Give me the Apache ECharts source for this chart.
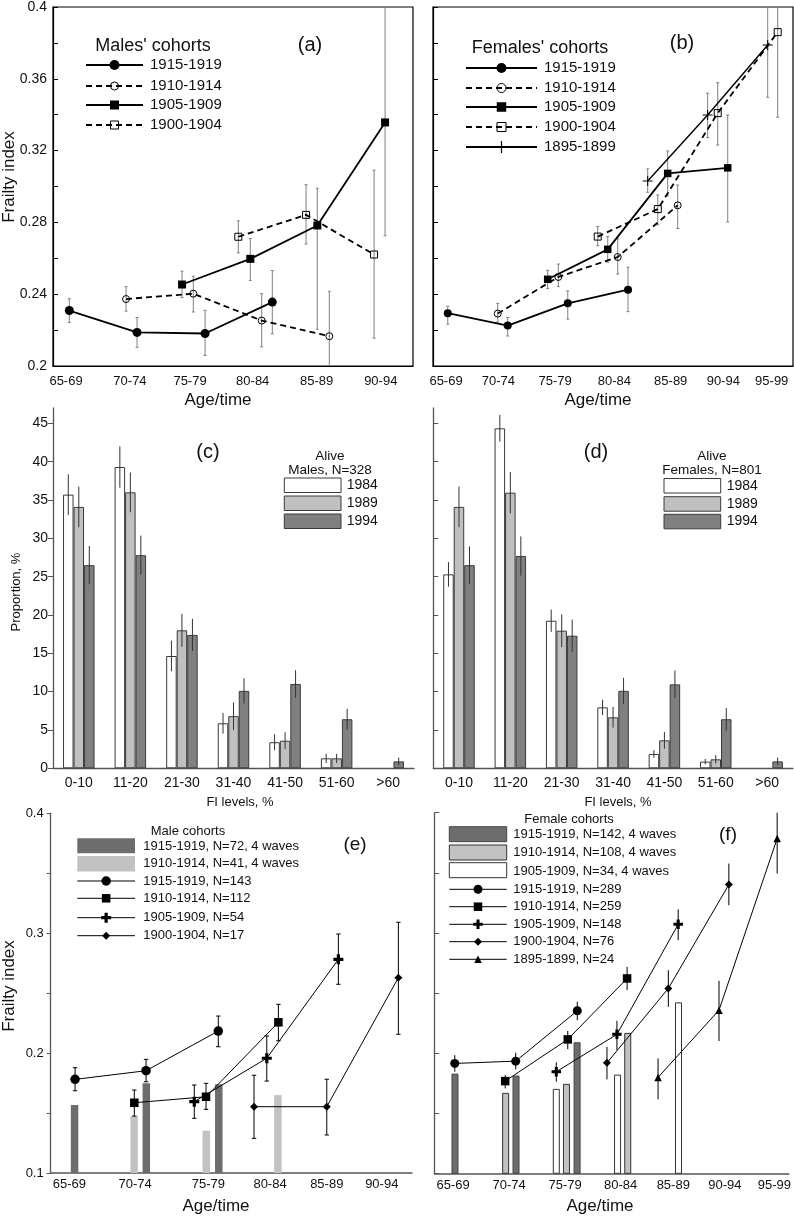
<!DOCTYPE html>
<html><head><meta charset="utf-8">
<script src="https://cdn.jsdelivr.net/npm/echarts@6/dist/echarts.min.js"></script>
<style>html,body{margin:0;padding:0;background:#fff}#c{width:794px;height:1216px}</style>
</head><body><div id="c"></div>
<script>
// ---------------- DATA ----------------
const ageLabels6 = ['65-69','70-74','75-79','80-84','85-89','90-94'];
const ageLabels7 = ['65-69','70-74','75-79','80-84','85-89','90-94','95-99'];
// tick label positions (mean age units)
const tickPosA = [67.08,72.14,76.89,81.85,86.91,91.98];
const tickPosB = [67,71.82,77.04,82.5,87.69,92.53,96.99];
const tickPosE = [67,72.26,78.12,83.06,87.6,92.0];
const tickPosF = [67,72.23,77.47,82.64,87.56,92.38,97];
const fiTicksAB = [0.2,0.22,0.24,0.26,0.28,0.3,0.32,0.34,0.36,0.38,0.4];
const fiLabelsA = [0.2,0.24,0.28,0.32,0.36,0.4];
const fiTicksEF = [0.1,0.15,0.2,0.25,0.3,0.35,0.4];
const fiLabelsE = [0.1,0.2,0.3,0.4];
const propTicks = [0,5,10,15,20,25,30,35,40,45];

const maleCohorts = ['1915-1919','1910-1914','1905-1909','1900-1904'];
const femaleCohorts = ['1915-1919','1910-1914','1905-1909','1900-1904','1895-1899'];

// panel (a): rows [mean age, FI, lower, upper]
const aM1915 = [[67.34,0.2309,0.2242,0.2375],[72.70,0.2187,0.2104,0.2270],[78.08,0.2181,0.2059,0.2310],[83.40,0.2356,0.2179,0.2532]];
const aM1910 = [[71.83,0.2373,0.2306,0.2442],[77.15,0.2403,0.2301,0.2500],[82.56,0.2253,0.2107,0.2403],[87.91,0.2166,0.19,0.2416]];
const aM1905 = [[76.26,0.2454,0.2381,0.2528],[81.66,0.2597,0.2477,0.2711],[86.96,0.2783,0.2205,0.2990],[92.32,0.3357,0.2726,0.41]];
const aM1900 = [[80.71,0.2720,0.2630,0.2809],[86.07,0.2842,0.2680,0.3010],[91.45,0.2621,0.2155,0.3091]];
// panel (b)
const bF1915 = [[67.16,0.2294,0.2233,0.2333],[72.68,0.2225,0.2167,0.2270],[78.21,0.2349,0.2261,0.2418],[83.76,0.2425,0.2303,0.2550]];
const bF1910 = [[71.76,0.2292,0.2245,0.2349],[77.34,0.2496,0.2442,0.2568],[82.81,0.2607,0.2512,0.2710],[88.33,0.2895,0.2766,0.3008]];
const bF1905 = [[76.36,0.2483,0.2431,0.2533],[81.89,0.2650,0.2578,0.2721],[87.41,0.3073,0.2948,0.3198],[92.94,0.3104,0.2802,0.3398]];
const bF1900 = [[80.97,0.2721,0.2670,0.2777],[86.50,0.2874,0.2786,0.2953],[92.02,0.3409,0.3231,0.3578],[97.54,0.3860,0.3386,0.43]];
const bF1895 = [[85.57,0.3031,0.2968,0.3098],[91.09,0.3398,0.3272,0.3520],[96.62,0.3788,0.3497,0.41]];

// panels (c), (d): proportion (%) by FI level, with half-width of error bar
const fiLevels = ['0-10','11-20','21-30','31-40','41-50','51-60','>60'];
const waves = ['1984','1989','1994'];
const males1984 = [35.7,39.3,14.65,5.87,3.4,1.3,null];
const males1984Err = [2.65,2.7,2.0,1.35,1.05,0.6,null];
const males1989 = [34.1,36.0,18.0,6.8,3.6,1.3,null];
const males1989Err = [2.65,2.6,2.15,1.8,1.1,0.6,null];
const males1994 = [26.5,27.8,17.4,10.1,11.0,6.4,0.9];
const males1994Err = [2.5,2.55,2.1,1.65,1.8,1.35,0.5];
const females1984 = [25.3,44.35,19.25,7.95,1.87,0.87,null];
const females1984Err = [1.6,1.75,1.45,1.0,0.5,0.35,null];
const females1989 = [34.1,35.95,17.95,6.65,3.65,1.17,null];
const females1989Err = [2.65,2.7,2.15,1.35,1.1,0.55,null];
const females1994 = [26.5,27.7,17.3,10.1,10.95,6.4,0.9];
const females1994Err = [2.45,2.55,2.1,1.7,1.8,1.45,0.5];

// panel (e): bars [mean age, FI]; points [mean age, FI, lower, upper]
const eBarNames = ['1915-1919, N=72, 4 waves','1910-1914, N=41, 4 waves'];
const eBar1915 = [[67.42,0.1567],[73.16,0.1748],[78.96,0.1740]];
const eBar1910 = [[72.19,0.1475],[77.96,0.1353],[83.69,0.1650]];
const eLineNames = ['1915-1919, N=143','1910-1914, N=112','1905-1909, N=54','1900-1904, N=17'];
const eM1915 = [[67.46,0.1781,0.1686,0.1878],[73.14,0.1853,0.1761,0.1948],[78.92,0.2184,0.2053,0.2309]];
const eM1910 = [[72.20,0.1586,0.1475,0.1692],[77.94,0.1636,0.1531,0.1748],[83.73,0.2257,0.2103,0.2407]];
const eM1905 = [[77.00,0.1595,0.1456,0.1734],[82.80,0.1957,0.1767,0.2143],[88.53,0.2782,0.2574,0.2993]];
const eM1900 = [[81.78,0.1553,0.1289,0.1815],[87.60,0.1553,0.1317,0.1782],[93.33,0.2629,0.2157,0.3091]];

// panel (f)
const fBarNames = ['1915-1919, N=142, 4 waves','1910-1914, N=108, 4 waves','1905-1909, N=34, 4 waves'];
const fBar1915 = [[67.18,0.1825],[72.88,0.1809],[78.58,0.2086]];
const fBar1910 = [[71.91,0.1665],[77.59,0.1740],[83.31,0.2164]];
const fBar1905 = [[76.64,0.1698],[82.36,0.1817],[88.05,0.2418]];
const fLineNames = ['1915-1919, N=289','1910-1914, N=259','1905-1909, N=148','1900-1904, N=76','1895-1899, N=24'];
const fF1915 = [[67.16,0.1914,0.1845,0.1983],[72.85,0.1933,0.1864,0.2003],[78.60,0.2352,0.2274,0.2427]];
const fF1910 = [[71.87,0.1767,0.1707,0.1817],[77.71,0.2114,0.2033,0.2185],[83.25,0.2621,0.2524,0.2717]];
const fF1905 = [[76.64,0.1845,0.1762,0.1923],[82.30,0.2156,0.2025,0.2269],[88.02,0.3072,0.2939,0.3197]];
const fF1900 = [[81.37,0.1919,0.1781,0.2052],[87.10,0.2538,0.2385,0.2690],[92.75,0.3402,0.3230,0.3577]];
const fF1895 = [[86.14,0.1798,0.1615,0.1956],[91.83,0.2357,0.2100,0.2601],[97.26,0.3785,0.3494,0.407]];

// ---------------- RENDER ----------------
const FONT = '"Liberation Sans", Arial, Helvetica, sans-serif';
const INK = '#111';
const AXC = '#555';
const PLUS_BOLD = 'path://M3.4,0H6.6V3.4H10V6.6H6.6V10H3.4V6.6H0V3.4H3.4Z';
const PLUS_THIN = 'path://M4.5,0H5.5V4.5H10V5.5H5.5V10H4.5V5.5H0V4.5H4.5Z';
const DARK = '#6d6d6d', LIGHT = '#c2c2c2';

function nearestIdx(arr, v){let b=0;for(let i=1;i<arr.length;i++){if(Math.abs(arr[i]-v)<Math.abs(arr[b]-v))b=i;}return b;}

const grids = [
  {left:53, top:5, width:360, height:361, show:true, borderColor:'#000', borderWidth:1.2},
  {left:433, top:7, width:360, height:359, show:true, borderColor:'#000', borderWidth:1.2},
  {left:53, top:408, width:361, height:360.3},
  {left:433.3, top:408, width:359.5, height:360.3},
  {left:50.7, top:813.3, width:361.3, height:359.7},
  {left:434.3, top:812.7, width:358.7, height:360.6}
];

function ageAxis(gi, min, max, ticks, labels, margin, lc, lw){
  return {type:'value', gridIndex:gi, min, max, splitLine:{show:false},
    axisTick:{show:false},
    axisLine:{show:true, onZero:false, lineStyle:{color:lc, width:lw}},
    axisLabel:{customValues:ticks, formatter:v=>labels[nearestIdx(ticks,v)], fontSize:13, color:INK, fontFamily:FONT, margin}};
}
function fiAxis(gi, min, max, ticks, labels, inside, len, lc, lw, margin, fs){
  return {type:'value', gridIndex:gi, min, max, splitLine:{show:false},
    axisLine:{show:true, onZero:false, lineStyle:{color:lc, width:lw}},
    axisTick:{show:true, inside, length:len, customValues:ticks, lineStyle:{color:lc, width:1}},
    axisLabel: labels ? {customValues:labels, formatter:v=>String(+v.toFixed(2)), fontSize:fs, color:INK, fontFamily:FONT, margin} : {show:false}};
}

const xAxes = [
  ageAxis(0, 66.05, 94.53, tickPosA, ageLabels6, 9, '#000', 1.2),
  ageAxis(1, 65.80, 98.95, tickPosB, ageLabels7, 9, '#000', 1.2),
  {type:'category', gridIndex:2, data:fiLevels, axisTick:{show:false}, axisLine:{show:true, lineStyle:{color:AXC, width:1.3}},
    axisLabel:{interval:0, fontSize:14, color:INK, fontFamily:FONT, margin:8}},
  {type:'category', gridIndex:3, data:fiLevels, axisTick:{show:false}, axisLine:{show:true, lineStyle:{color:AXC, width:1.3}},
    axisLabel:{interval:0, fontSize:14, color:INK, fontFamily:FONT, margin:8}},
  ageAxis(4, 65.51, 94.42, tickPosE, ageLabels6, 5, AXC, 1.5),
  ageAxis(5, 65.25, 98.36, tickPosF, ageLabels7, 6, AXC, 1.5)
];
const yAxes = [
  fiAxis(0, 0.2, 0.4, fiTicksAB, fiLabelsA, true, 5, '#000', 1.2, 6, 14),
  fiAxis(1, 0.2, 0.4, fiTicksAB, null, true, 5, '#000', 1.2, 6, 14),
  {type:'value', gridIndex:2, min:0, max:47, splitLine:{show:false},
    axisLine:{show:true, lineStyle:{color:AXC, width:1.3}},
    axisTick:{show:true, length:5, customValues:propTicks, lineStyle:{color:AXC}},
    axisLabel:{customValues:propTicks, fontSize:14, color:INK, fontFamily:FONT, margin:5}},
  {type:'value', gridIndex:3, min:0, max:47, splitLine:{show:false},
    axisLine:{show:true, lineStyle:{color:AXC, width:1.3}},
    axisTick:{show:true, inside:true, length:5, customValues:propTicks, lineStyle:{color:AXC}},
    axisLabel:{show:false}},
  fiAxis(4, 0.1, 0.4, fiTicksEF, fiLabelsE, false, 4, AXC, 1.3, 7, 13),
  fiAxis(5, 0.1, 0.4, fiTicksEF, null, true, 5, AXC, 1.3, 6, 13)
];

const series = [];
function errSeries(rows, gi, color, cap, lw){
  series.push({type:'custom', xAxisIndex:gi, yAxisIndex:gi, silent:true, z:2, animation:false,
    data: rows.map(r=>[r[0], r[2], r[3]]),
    encode:{x:0, y:[1,2]},
    renderItem:(params, api)=>{
      const cs = params.coordSys;
      const p1 = api.coord([api.value(0), api.value(1)]);
      const p2 = api.coord([api.value(0), api.value(2)]);
      const top = Math.max(cs.y, p2[1]), bot = Math.min(cs.y+cs.height, p1[1]);
      const ch = [{type:'line', shape:{x1:p1[0], y1:top, x2:p1[0], y2:bot}, style:{stroke:color, lineWidth:lw}}];
      if(cap>0){
        if(p2[1] >= cs.y) ch.push({type:'line', shape:{x1:p1[0]-cap, y1:p2[1], x2:p1[0]+cap, y2:p2[1]}, style:{stroke:color, lineWidth:lw}});
        if(p1[1] <= cs.y+cs.height) ch.push({type:'line', shape:{x1:p1[0]-cap, y1:p1[1], x2:p1[0]+cap, y2:p1[1]}, style:{stroke:color, lineWidth:lw}});
      }
      return {type:'group', children:ch};
    }});
}
function lineSeries(name, rows, gi, o){
  series.push({type:'line', name, xAxisIndex:gi, yAxisIndex:gi, z:3, animation:false,
    data: rows.map(r=>[r[0], r[1]]),
    symbol:o.symbol, symbolSize:o.size, showAllSymbol:true,
    lineStyle:{color:'#000', width:o.lw, type:o.dash ? [6,4] : 'solid'},
    itemStyle:{color:o.filled ? '#000' : 'rgba(0,0,0,0)', borderColor:'#000', borderWidth:o.filled ? 0 : 1},
    emphasis:{disabled:true}});
}
function ageBarSeries(rows, gi, fill, stroke, w){
  series.push({type:'custom', xAxisIndex:gi, yAxisIndex:gi, silent:true, z:1, animation:false,
    data: rows, encode:{x:0, y:1},
    renderItem:(params, api)=>{
      const cs = params.coordSys;
      const p = api.coord([api.value(0), api.value(1)]);
      const base = cs.y + cs.height;
      return {type:'rect', shape:{x:p[0]-w/2, y:p[1], width:w, height:base-p[1]},
        style:{fill, stroke: stroke || null, lineWidth: stroke ? 1 : 0}};
    }});
}
function catBarSeries(name, vals, gi, fill){
  series.push({type:'bar', name, xAxisIndex:gi, yAxisIndex:gi, data:vals, barWidth:10.5, barGap:'0%', z:1, animation:false,
    itemStyle:{color:fill, borderColor:'#3a3a3a', borderWidth:1}, emphasis:{disabled:true}});
}
function catErrSeries(vals, errs, gi, off){
  const d = [];
  vals.forEach((v,i)=>{ if(v!=null) d.push([i, v-errs[i], v+errs[i]]); });
  series.push({type:'custom', xAxisIndex:gi, yAxisIndex:gi, silent:true, z:3, animation:false,
    data:d, encode:{x:0, y:[1,2]},
    renderItem:(params, api)=>{
      const p1 = api.coord([api.value(0), api.value(1)]);
      const p2 = api.coord([api.value(0), api.value(2)]);
      return {type:'line', shape:{x1:p1[0]+off, y1:p1[1], x2:p1[0]+off, y2:p2[1]}, style:{stroke:'#333', lineWidth:1}};
    }});
}

// (a)
const aRows = [aM1915, aM1910, aM1905, aM1900];
const aSty = [
  {symbol:'circle', size:9, filled:true, dash:false, lw:1.8},
  {symbol:'circle', size:7, filled:false, dash:true, lw:1.8},
  {symbol:'rect', size:8, filled:true, dash:false, lw:1.8},
  {symbol:'rect', size:7, filled:false, dash:true, lw:1.8}];
aRows.forEach(r=>errSeries(r, 0, '#808080', 1.5, 1));
aRows.forEach((r,i)=>lineSeries(maleCohorts[i], r, 0, aSty[i]));
// (b)
const bRows = [bF1915, bF1910, bF1905, bF1900, bF1895];
const bSty = [
  {symbol:'circle', size:8, filled:true, dash:false, lw:1.8},
  {symbol:'circle', size:7, filled:false, dash:true, lw:1.8},
  {symbol:'rect', size:7.5, filled:true, dash:false, lw:1.8},
  {symbol:'rect', size:7, filled:false, dash:true, lw:1.8},
  {symbol:PLUS_THIN, size:10, filled:true, dash:false, lw:1.4}];
bRows.forEach(r=>errSeries(r, 1, '#808080', 1.5, 1));
bRows.forEach((r,i)=>lineSeries(femaleCohorts[i], r, 1, bSty[i]));
// (c)
const waveFill = ['#ffffff', '#c0c0c0', '#808080'];
[males1984, males1989, males1994].forEach((v,i)=>catBarSeries(waves[i], v, 2, waveFill[i]));
[[males1984,males1984Err],[males1989,males1989Err],[males1994,males1994Err]].forEach((p,i)=>catErrSeries(p[0], p[1], 2, (i-1)*10.5));
// (d)
[females1984, females1989, females1994].forEach((v,i)=>catBarSeries(waves[i], v, 3, waveFill[i]));
[[females1984,females1984Err],[females1989,females1989Err],[females1994,females1994Err]].forEach((p,i)=>catErrSeries(p[0], p[1], 3, (i-1)*10.5));
// (e)
ageBarSeries(eBar1915, 4, DARK, null, 7.5);
ageBarSeries(eBar1910, 4, LIGHT, null, 7.5);
const eRows = [eM1915, eM1910, eM1905, eM1900];
const eSty = [
  {symbol:'circle', size:9.5, filled:true, lw:1},
  {symbol:'rect', size:8.5, filled:true, lw:1},
  {symbol:PLUS_BOLD, size:10, filled:true, lw:1},
  {symbol:'diamond', size:8, filled:true, lw:1}];
eRows.forEach(r=>errSeries(r, 4, '#000', 2.2, 1));
eRows.forEach((r,i)=>lineSeries(eLineNames[i], r, 4, eSty[i]));
// (f)
ageBarSeries(fBar1915, 5, DARK, '#444', 6);
ageBarSeries(fBar1910, 5, LIGHT, '#333', 6);
ageBarSeries(fBar1905, 5, '#ffffff', '#333', 6);
const fRows = [fF1915, fF1910, fF1905, fF1900, fF1895];
const fSty = [
  {symbol:'circle', size:9, filled:true, lw:1},
  {symbol:'rect', size:8.5, filled:true, lw:1},
  {symbol:PLUS_BOLD, size:9.5, filled:true, lw:1},
  {symbol:'diamond', size:8, filled:true, lw:1},
  {symbol:'triangle', size:7.5, filled:true, lw:1}];
fRows.forEach(r=>errSeries(r, 5, '#000', 0, 1));
fRows.forEach((r,i)=>lineSeries(fLineNames[i], r, 5, fSty[i]));

// ---------------- GRAPHIC (titles, legends) ----------------
const G = [];
function txt(text, x, y, size, align, rot){
  G.push({type:'text', x, y, rotation:rot||0, silent:true, z:10,
    style:{text, fill:INK, font:size+'px '+FONT, textAlign:align||'center', textVerticalAlign:'middle', align:align||'center', verticalAlign:'middle'}});
}
function sym(kind, cx, cy, s, filled){
  const fill = filled ? '#000' : 'rgba(0,0,0,0)';
  const st = {fill, stroke:'#000', lineWidth: filled ? 0 : 1};
  const h = s/2;
  if(kind==='circle') return {type:'circle', shape:{cx, cy, r:h}, style:st};
  if(kind==='rect') return {type:'rect', shape:{x:cx-h, y:cy-h, width:s, height:s}, style:st};
  if(kind==='diamond') return {type:'polygon', shape:{points:[[cx,cy-h],[cx+h,cy],[cx,cy+h],[cx-h,cy]]}, style:st};
  if(kind==='triangle') return {type:'polygon', shape:{points:[[cx,cy-h],[cx+h,cy+h],[cx-h,cy+h]]}, style:st};
  const t = kind==='plusBold' ? 0.16*s : 0.05*s;
  return {type:'polygon', shape:{points:[[cx-t,cy-h],[cx+t,cy-h],[cx+t,cy-t],[cx+h,cy-t],[cx+h,cy+t],[cx+t,cy+t],[cx+t,cy+h],[cx-t,cy+h],[cx-t,cy+t],[cx-h,cy+t],[cx-h,cy-t],[cx-t,cy-t]]}, style:{fill:'#000'}};
}
function legLine(x1, x2, y, dash, lw, kind, s, filled){
  G.push({type:'line', silent:true, z:10, shape:{x1, y1:y, x2, y2:y}, style:{stroke:'#000', lineWidth:lw, lineDash: dash ? [6,4] : null}});
  const e = sym(kind, (x1+x2)/2, y, s, filled); e.silent = true; e.z = 11; G.push(e);
}
function swatch(x, y, w, h, fill, stroke){
  G.push({type:'rect', silent:true, z:10, shape:{x, y, width:w, height:h}, style:{fill, stroke: stroke || null, lineWidth: stroke ? 1 : 0}});
}

// axis titles
txt('Frailty index', 9, 177, 17, 'center', Math.PI/2);
txt('Age/time', 218, 400, 17);
txt('Age/time', 598, 400, 17);
txt('Proportion, %', 16, 592, 13, 'center', Math.PI/2);
txt('FI levels, %', 240, 802, 13);
txt('FI levels, %', 618, 802, 13);
txt('Frailty index', 9, 986, 17, 'center', Math.PI/2);
txt('Age/time', 216, 1206, 17);
txt('Age/time', 600, 1206, 17);
// panel tags
txt('(a)', 310, 45, 20); txt('(b)', 682, 43, 20);
txt('(c)', 208, 452, 20); txt('(d)', 596, 452, 20);
txt('(e)', 355, 845, 19); txt('(f)', 728, 835, 19);

// legend (a)
txt("Males' cohorts", 153, 46, 18);
const aKinds = ['circle','circle','rect','rect'];
[65,86,105,125].forEach((y,i)=>{ legLine(86,143,y,aSty[i].dash,1.8,aKinds[i],aSty[i].size+1,aSty[i].filled); txt(maleCohorts[i], 150, y, 15, 'left'); });
// legend (b)
txt("Females' cohorts", 540, 48, 18);
const bKinds = ['circle','circle','rect','rect','plusThin'];
[68,88,107,127,147].forEach((y,i)=>{ legLine(466,537,y,bSty[i].dash,1.8,bKinds[i],bSty[i].size+2,bSty[i].filled); txt(femaleCohorts[i], 544, y, 15, 'left'); });
// legend (c)
txt('Alive', 330, 456, 13.5); txt('Males, N=328', 330, 470, 13.5);
[478,496,514].forEach((y,i)=>{ swatch(284.3, y, 56.7, 14.5, waveFill[i], '#3a3a3a'); txt(waves[i], 346.7, y+7.3, 14, 'left'); });
// legend (d)
txt('Alive', 712, 456, 13.5); txt('Females, N=801', 712, 470, 13.5);
[478.5,496.7,514.3].forEach((y,i)=>{ swatch(664, y, 56.7, 14.5, waveFill[i], '#3a3a3a'); txt(waves[i], 726.7, y+7.3, 14, 'left'); });
// legend (e)
txt('Male cohorts', 188, 831, 13);
swatch(77.3, 838.3, 57.7, 15, DARK); swatch(77.3, 856, 57.7, 15.5, LIGHT);
txt(eBarNames[0], 143.3, 846.7, 13, 'left'); txt(eBarNames[1], 143.3, 863.3, 13, 'left');
const eKinds = ['circle','rect','plusBold','diamond'];
[881,898.3,917.7,935.7].forEach((y,i)=>{ legLine(77.3,135,y,false,1,eKinds[i],eSty[i].size,true); txt(eLineNames[i], 143.3, y, 13, 'left'); });
// legend (f)
txt('Female cohorts', 569, 819.5, 13);
swatch(449.3, 826.7, 57.4, 15, DARK, '#444'); swatch(449.3, 845, 57.4, 15, LIGHT, '#333'); swatch(449.3, 862.7, 57.4, 15, '#ffffff', '#333');
[834.3,852.7,871].forEach((y,i)=>txt(fBarNames[i], 513.3, y, 13, 'left'));
const fKinds = ['circle','rect','plusBold','diamond','triangle'];
[889.3,906.7,924.3,941.7,959.3].forEach((y,i)=>{ legLine(449.3,506.7,y,false,1,fKinds[i],fSty[i].size,true); txt(fLineNames[i], 513.3, y, 13, 'left'); });

const chart = echarts.init(document.getElementById('c'), null, {renderer:'canvas'});
chart.setOption({
  backgroundColor:'#fff', animation:false,
  textStyle:{fontFamily:FONT},
  grid:grids, xAxis:xAxes, yAxis:yAxes, series,
  graphic:{elements:G}
});
</script>
</body></html>
